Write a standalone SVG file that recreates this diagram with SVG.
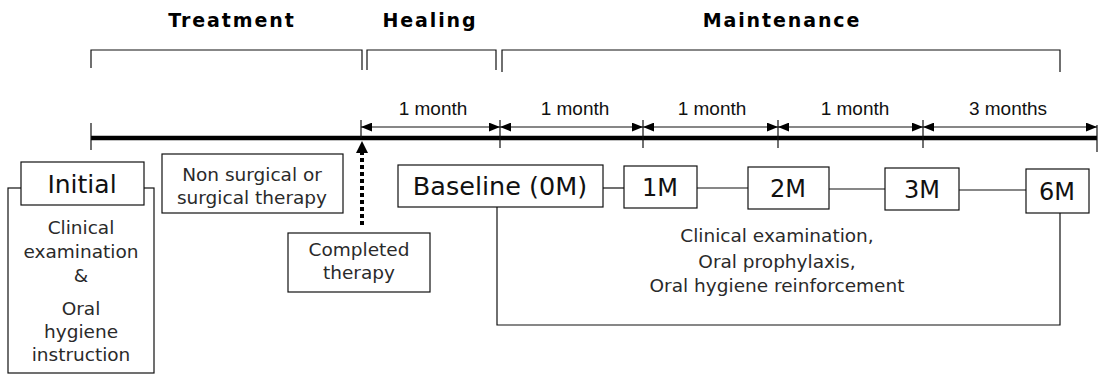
<svg xmlns="http://www.w3.org/2000/svg" width="1103" height="376" viewBox="0 0 1103 376">
<defs>
<style>
.bx{fill:#fff;stroke:#111;stroke-width:1.2}
.ln{fill:none;stroke:#111;stroke-width:1.2}
.title{font-family:"DejaVu Sans",Verdana,sans-serif;font-weight:bold;font-size:19px;letter-spacing:1.9px;fill:#000;text-anchor:middle}
.dim{font-family:"Liberation Sans",Arial,sans-serif;font-size:19px;fill:#111;text-anchor:middle}
.big{font-family:"DejaVu Sans",Verdana,sans-serif;font-size:24px;fill:#111;text-anchor:middle}
.sm{font-family:"DejaVu Sans",Verdana,sans-serif;font-size:18.5px;fill:#2a2a2a;text-anchor:middle}
</style>
<marker id="ah" viewBox="0 0 10 8" refX="10" refY="4" markerWidth="11" markerHeight="9" markerUnits="userSpaceOnUse" orient="auto-start-reverse">
<path d="M0,0 L10,4 L0,8 Z" fill="#000"/>
</marker>
</defs>

<g id="titles">
<text class="title" x="232" y="27">Treatment</text>
<text class="title" x="430" y="27">Healing</text>
<text class="title" x="782" y="27">Maintenance</text>
</g>

<g id="phase-brackets" class="ln">
<path d="M91,68 V50 H362 V70"/>
<path d="M367,70 V50 H496 V70"/>
<path d="M502,72 V50 H1060 V72"/>
</g>

<g id="timeline">
<line x1="91" y1="138" x2="1097" y2="138" stroke="#000" stroke-width="4.5"/>
<line class="ln" x1="91" y1="123" x2="91" y2="150"/>
<line class="ln" x1="1097" y1="125" x2="1097" y2="152"/>
<line class="ln" x1="361" y1="120" x2="361" y2="138"/>
<line class="ln" x1="500" y1="120" x2="500" y2="148"/>
<line class="ln" x1="643" y1="120" x2="643" y2="148"/>
<line class="ln" x1="778" y1="120" x2="778" y2="148"/>
<line class="ln" x1="923" y1="120" x2="923" y2="148"/>
</g>

<g id="intervals">
<line class="ln" x1="361" y1="127" x2="500" y2="127" marker-start="url(#ah)" marker-end="url(#ah)"/>
<line class="ln" x1="500" y1="127" x2="643" y2="127" marker-start="url(#ah)" marker-end="url(#ah)"/>
<line class="ln" x1="643" y1="127" x2="778" y2="127" marker-start="url(#ah)" marker-end="url(#ah)"/>
<line class="ln" x1="778" y1="127" x2="923" y2="127" marker-start="url(#ah)" marker-end="url(#ah)"/>
<line class="ln" x1="923" y1="127" x2="1097" y2="127" marker-start="url(#ah)" marker-end="url(#ah)"/>
<text class="dim" x="433" y="115">1 month</text>
<text class="dim" x="575" y="115">1 month</text>
<text class="dim" x="712" y="115">1 month</text>
<text class="dim" x="855" y="115">1 month</text>
<text class="dim" x="1008" y="115">3 months</text>
</g>

<g id="connectors">
<line x1="362" y1="225" x2="362" y2="152" stroke="#000" stroke-width="4" stroke-dasharray="4,3"/>
<path d="M356,153 L362,141 L368,153 Z" fill="#000"/>
<line class="ln" x1="603" y1="188" x2="624" y2="188"/>
<line class="ln" x1="697" y1="188" x2="748" y2="188"/>
<line class="ln" x1="829" y1="189" x2="885" y2="189"/>
<line class="ln" x1="959" y1="190" x2="1026" y2="190"/>
<path class="ln" d="M497,207 V325 H1060 V213"/>
</g>

<g id="initial-detail">
<rect class="bx" x="8" y="188" width="146" height="185"/>
<text class="sm" x="81" y="234">Clinical</text>
<text class="sm" x="81" y="258">examination</text>
<text class="sm" x="81" y="282">&amp;</text>
<text class="sm" x="81" y="315">Oral</text>
<text class="sm" x="81" y="338">hygiene</text>
<text class="sm" x="81" y="361">instruction</text>
</g>

<g id="initial">
<rect class="bx" x="21" y="162" width="123" height="43"/>
<text class="big" x="82" y="193" style="font-size:25px">Initial</text>
</g>

<g id="therapy">
<rect class="bx" x="162" y="154" width="181" height="59"/>
<text class="sm" x="252" y="181">Non surgical or</text>
<text class="sm" x="252" y="204">surgical therapy</text>
</g>

<g id="completed">
<rect class="bx" x="288" y="233" width="142" height="59"/>
<text class="sm" x="359" y="256">Completed</text>
<text class="sm" x="359" y="279">therapy</text>
</g>

<g id="baseline">
<rect class="bx" x="398" y="165" width="205" height="42"/>
<text class="big" x="500" y="195" style="font-size:25.5px">Baseline (0M)</text>
</g>

<g id="m1">
<rect class="bx" x="624" y="166" width="73" height="42"/>
<text class="big" x="660" y="196">1M</text>
</g>

<g id="m2">
<rect class="bx" x="748" y="167" width="81" height="42"/>
<text class="big" x="788" y="197">2M</text>
</g>

<g id="m3">
<rect class="bx" x="885" y="168" width="74" height="42"/>
<text class="big" x="922" y="198">3M</text>
</g>

<g id="m6">
<rect class="bx" x="1026" y="169" width="63" height="44"/>
<text class="big" x="1057" y="200">6M</text>
</g>

<g id="maintenance-tasks">
<text class="sm" x="777" y="242">Clinical examination,</text>
<text class="sm" x="777" y="268">Oral prophylaxis,</text>
<text class="sm" x="777" y="292">Oral hygiene reinforcement</text>
</g>
</svg>
